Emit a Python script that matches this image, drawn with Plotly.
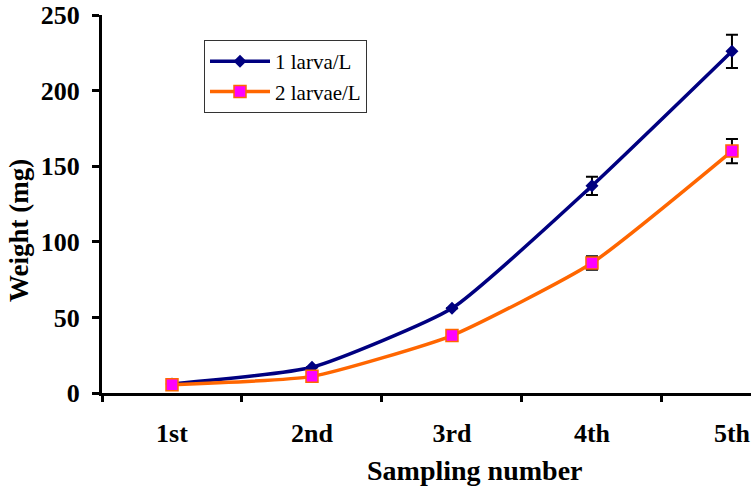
import plotly.graph_objects as go

categories = ["1st", "2nd", "3rd", "4th", "5th"]
larva1 = [6, 17, 56, 137, 226]
larva1_err = [0, 0, 0, 6, 11]
larva2 = [5.5, 11, 38, 86, 160]
larva2_err = [0, 0, 0, 4.5, 8]

font_family = "Liberation Serif, Times New Roman, serif"

W, H = 751, 486
L, T, PH = 102, 15, 378
B = H - T - PH
PW = W - L

fig = go.Figure()
fig.add_trace(go.Scatter(
    x=categories, y=larva1, name="1 larva/L", mode="lines+markers",
    line=dict(color="#000080", width=3.5, shape="spline", smoothing=0.5),
    marker=dict(symbol="diamond", size=10, color="#000080"),
    error_y=dict(type="data", array=larva1_err, color="black", thickness=2, width=6),
))
fig.add_trace(go.Scatter(
    x=categories, y=larva2, name="2 larvae/L", mode="lines+markers",
    line=dict(color="#FF6600", width=3.5, shape="spline", smoothing=0.5),
    marker=dict(symbol="square", size=12, color="#FF00FF", line=dict(color="#FF6600", width=1.5)),
    error_y=dict(type="data", array=larva2_err, color="black", thickness=2, width=6),
))

fig.update_layout(
    width=W, height=H,
    margin=dict(l=L, r=0, t=T, b=B),
    paper_bgcolor="white", plot_bgcolor="white",
    font=dict(family=font_family, color="black"),
    showlegend=True,
    legend=dict(
        x=(204 - L) / PW, y=1 - (40 - T) / PH, xanchor="left", yanchor="top",
        bgcolor="white", bordercolor="#333333", borderwidth=1,
        font=dict(size=21, family=font_family, color="black"),
        tracegroupgap=0, itemwidth=60,
    ),
    xaxis=dict(
        type="category", range=[-0.5, 4.136],
        showline=True, linecolor="black", linewidth=3,
        ticks="outside", tickson="boundaries", ticklen=6, tickwidth=3, tickcolor="black",
        showgrid=False, zeroline=False,
        tickfont=dict(size=26, family=font_family, color="black", weight="bold"),
        ticklabelstandoff=15,
    ),
    yaxis=dict(
        range=[0, 250], tickvals=[0, 50, 100, 150, 200, 250],
        showline=True, linecolor="black", linewidth=3,
        ticks="outside", ticklen=7, tickwidth=3, tickcolor="black",
        showgrid=False, zeroline=False,
        tickfont=dict(size=26, family=font_family, color="black", weight="bold"),
        ticklabelstandoff=7, ticklabeloverflow="allow",
    ),
    annotations=[
        dict(text="<b>Sampling number</b>", x=(475 - L) / PW, y=(T + PH - 470) / PH,
             xref="paper", yref="paper", showarrow=False,
             font=dict(size=28, family=font_family, color="black"),
             xanchor="center", yanchor="middle"),
        dict(text="<b>Weight (mg)</b>", x=(19 - L) / PW, y=(T + PH - 230) / PH,
             xref="paper", yref="paper", showarrow=False, textangle=-90,
             font=dict(size=27, family=font_family, color="black"),
             xanchor="center", yanchor="middle"),
    ],
)

fig.write_html("out.html", config={"displayModeBar": False},
               post_script="document.body.style.margin='0';document.body.style.overflow='hidden';")
